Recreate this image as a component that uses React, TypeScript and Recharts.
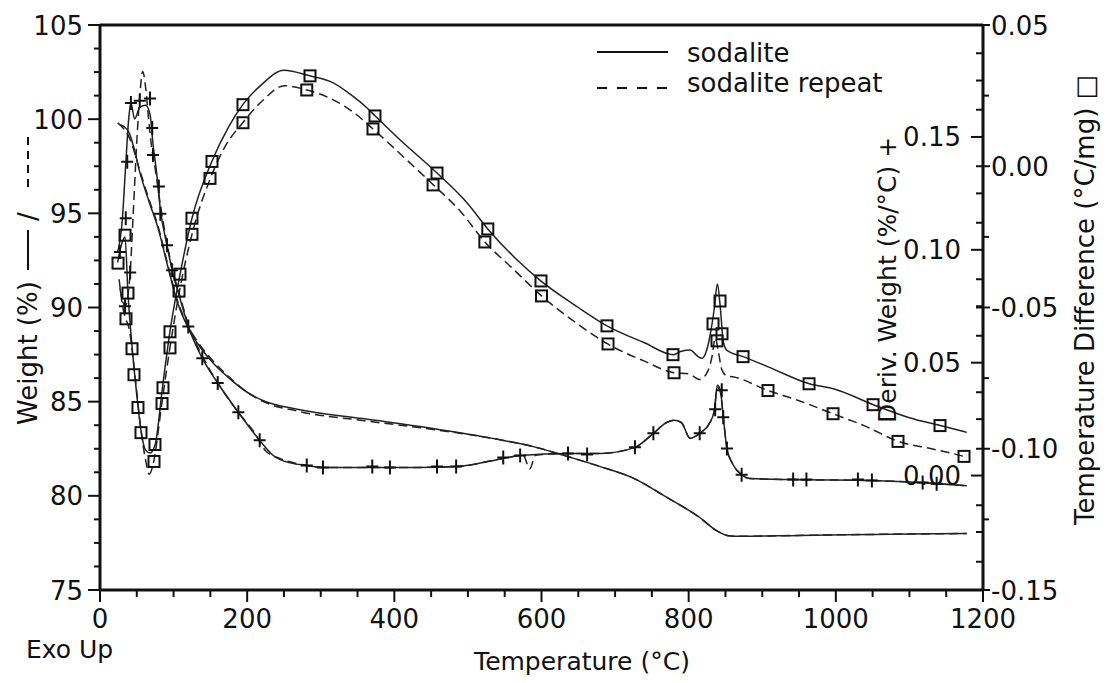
import React from "react";
import { ComposedChart, Line, Scatter, XAxis, YAxis, ReferenceLine } from "recharts";

type Pair = [number, number];

// axis ticks (labels only on the round ones)
const temperatureTicks = [
  0, 50, 100, 150, 200, 250, 300, 350, 400, 450, 500, 550, 600,
  650, 700, 750, 800, 850, 900, 950, 1000, 1050, 1100, 1150, 1200,
];
const weightTicks = [
  75, 76.25, 77.5, 78.75, 80, 81.25, 82.5, 83.75, 85, 86.25, 87.5, 88.75, 90,
  91.25, 92.5, 93.75, 95, 96.25, 97.5, 98.75, 100, 101.25, 102.5, 103.75, 105,
];
const tempDiffTicks = [
  -0.15, -0.14, -0.125, -0.12, -0.1, -0.08, -0.075, -0.06, -0.05, -0.04,
  -0.025, -0.02, 0, 0.02, 0.025, 0.04, 0.05,
];
const derivTicks = [-0.025, 0, 0.025, 0.05, 0.075, 0.1, 0.125, 0.15, 0.175];

// Weight (%) vs temperature
const weightSodalite: Pair[] = [
  [28, 99.7], [38, 99.4], [46, 98.5], [54, 97.2], [66, 95.7], [79, 94.2],
  [92, 92.2], [105, 90.3], [120, 88.9], [136, 87.9], [155, 87.0], [177, 86.2],
  [200, 85.5], [222, 85.05], [268, 84.6], [357, 84.1], [448, 83.6], [540, 83.0],
  [590, 82.6], [630, 82.15], [680, 81.55], [724, 80.95], [771, 79.9], [815, 78.85],
  [838, 78.15], [852, 77.9], [870, 77.85], [950, 77.9], [1050, 77.95], [1178, 78.0],
];
const weightRepeat: Pair[] = [
  [24, 99.8], [32, 99.5], [40, 99.0], [54, 97.3], [66, 95.8], [79, 94.3],
  [92, 92.3], [105, 90.4], [120, 89.0], [136, 88.0], [155, 87.1], [177, 86.25],
  [200, 85.5], [222, 85.0], [268, 84.5], [357, 84.0], [448, 83.55], [540, 83.0],
  [590, 82.6], [630, 82.15], [680, 81.55], [724, 80.95], [771, 79.9], [815, 78.85],
  [838, 78.15], [852, 77.9], [870, 77.85], [950, 77.9], [1050, 77.95], [1178, 78.0],
];

// Deriv. weight (%/°C)
const derivSodalite: Pair[] = [
  [24, 0.099], [30, 0.112], [35, 0.138], [39, 0.158], [42, 0.165], [47, 0.158],
  [54, 0.163], [62, 0.164], [68, 0.16], [72, 0.147], [77, 0.134], [82, 0.118],
  [91, 0.102], [98, 0.091], [110, 0.077], [120, 0.066], [139, 0.052], [160, 0.041],
  [188, 0.028], [217, 0.0156], [235, 0.009], [260, 0.0055], [281, 0.0045], [303, 0.0036],
  [370, 0.0036], [430, 0.0036], [485, 0.004], [548, 0.0076], [571, 0.0089], [636, 0.0098],
  [680, 0.0098], [727, 0.0125], [752, 0.0187], [770, 0.0235], [780, 0.0245], [790, 0.0235],
  [802, 0.0165], [815, 0.0187], [829, 0.0236], [835, 0.029], [839, 0.04], [843, 0.038],
  [847, 0.026], [852, 0.012], [860, 0.005], [872, 0.0004], [883, -0.0013], [942, -0.0018],
  [1050, -0.0022], [1137, -0.0036], [1178, -0.0045],
];
const derivRepeat: Pair[] = [
  [27, 0.083], [31, 0.077], [34, 0.075], [38, 0.08], [41, 0.09], [45, 0.115],
  [50, 0.148], [54, 0.168], [58, 0.179], [62, 0.172], [66, 0.158], [70, 0.146],
  [75, 0.136], [82, 0.12], [91, 0.103], [98, 0.092], [110, 0.078], [120, 0.067],
  [139, 0.053], [160, 0.041], [188, 0.028], [210, 0.019], [225, 0.011], [245, 0.0075],
  [281, 0.0045], [303, 0.0036], [370, 0.0036], [430, 0.0036], [485, 0.004], [548, 0.0076],
  [575, 0.009], [584, 0.003], [592, 0.009], [636, 0.0098], [680, 0.0098], [727, 0.0125],
  [752, 0.0187], [770, 0.0235], [780, 0.0245], [790, 0.0235], [802, 0.0165], [815, 0.0187],
  [829, 0.0236], [835, 0.029], [839, 0.039], [843, 0.037], [847, 0.026], [852, 0.012],
  [860, 0.005], [872, 0.0004], [883, -0.0013], [942, -0.0018], [1050, -0.0022],
  [1137, -0.0036], [1178, -0.0045],
];

// Temperature difference (°C/mg)
const tempDiffSodalite: Pair[] = [
  [24, -0.034], [30, -0.027], [34, -0.025], [38, -0.045], [44, -0.065], [50, -0.081],
  [56, -0.094], [62, -0.1005], [68, -0.1015], [75, -0.0985], [85, -0.078], [95, -0.0586],
  [109, -0.038], [125, -0.0184], [152, 0.0017], [175, 0.014], [194, 0.0218], [220, 0.029],
  [250, 0.034], [285, 0.032], [317, 0.0295], [340, 0.0255], [363, 0.0206], [374, 0.0178],
  [408, 0.0093], [458, -0.0024], [499, -0.013], [527, -0.0222], [567, -0.0332], [599, -0.0406],
  [650, -0.05], [689, -0.0565], [740, -0.0625], [779, -0.0667], [790, -0.0655], [802, -0.065],
  [812, -0.0672], [818, -0.068], [824, -0.0655], [829, -0.06], [835, -0.05], [839, -0.0417],
  [843, -0.05], [847, -0.062], [852, -0.0652], [874, -0.0674], [908, -0.071], [964, -0.077],
  [1000, -0.079], [1051, -0.0844], [1100, -0.089], [1142, -0.0918], [1178, -0.0942],
];
const tempDiffRepeat: Pair[] = [
  [26, -0.04], [31, -0.05], [35, -0.054], [40, -0.058], [44, -0.066], [50, -0.08],
  [56, -0.094], [62, -0.104], [67, -0.109], [73, -0.1045], [84, -0.084], [95, -0.0643],
  [108, -0.0442], [125, -0.0241], [150, -0.0043], [170, 0.007], [194, 0.0154], [220, 0.023],
  [251, 0.0285], [281, 0.027], [317, 0.0235], [345, 0.019], [371, 0.0132], [417, 0.0022],
  [453, -0.0066], [490, -0.016], [523, -0.0268], [560, -0.036], [600, -0.0459], [650, -0.056],
  [690, -0.0629], [740, -0.069], [780, -0.0731], [800, -0.0735], [815, -0.0755], [826, -0.0725],
  [832, -0.067], [836, -0.0608], [840, -0.065], [845, -0.072], [852, -0.0742], [860, -0.0745],
  [908, -0.0794], [950, -0.083], [996, -0.0876], [1040, -0.092], [1085, -0.0974], [1130, -0.1],
  [1174, -0.1027], [1178, -0.103],
];

// symbol positions along the curves
const squareMarks: Pair[] = [
  [24.5, -0.0343], [34, -0.0244], [38, -0.0449], [35.3, -0.054], [43.5, -0.0646],
  [46.2, -0.0738], [51.6, -0.0854], [55.7, -0.0943], [74.7, -0.0985], [73.4, -0.1045],
  [84.3, -0.084], [85.6, -0.0784], [95.1, -0.0643], [95.1, -0.0586], [107.4, -0.0442],
  [108.7, -0.0382], [125, -0.0241], [125, -0.0184], [149.5, -0.0043], [152.2, 0.0017],
  [194.3, 0.0218], [194.3, 0.0154], [285.4, 0.032], [281, 0.027], [373.7, 0.0178],
  [371, 0.0132], [458, -0.0024], [452.6, -0.0066], [527, -0.0222], [523, -0.0268],
  [599.3, -0.0406], [600, -0.0459], [689, -0.0565], [690.4, -0.0629], [778.7, -0.0667],
  [780.1, -0.0731], [842.6, -0.0477], [833.1, -0.0558], [845.3, -0.0593], [838.5, -0.0618],
  [873.9, -0.0674], [907.8, -0.0794], [963.6, -0.077], [996.2, -0.0876], [1050.6, -0.0844],
  [1084.5, -0.0974], [1141.6, -0.0918], [1174.2, -0.1027],
];
const plusMarks: Pair[] = [
  [27, 0.099], [34, 0.075], [41, 0.09], [35, 0.114], [37, 0.139], [42, 0.165],
  [54, 0.166], [68, 0.167], [71, 0.154], [72, 0.142], [80, 0.128], [82, 0.116],
  [91, 0.102], [98, 0.091], [120, 0.066], [139, 0.052], [160, 0.041], [188, 0.028],
  [217, 0.0156], [281, 0.0045], [303, 0.0036], [370, 0.004], [394, 0.0036], [458, 0.004],
  [484, 0.004], [548, 0.008], [571, 0.0089], [636, 0.0098], [662, 0.0093], [727, 0.0125],
  [752, 0.0187], [815, 0.0187], [836, 0.0294], [845, 0.0378], [847, 0.0258], [852, 0.012],
  [872, 0.0004], [942, -0.0018], [960, -0.0018], [1030, -0.0018], [1049, -0.0022],
  [1118, -0.0031], [1137, -0.0036],
];

const toPoints = (pairs: Pair[]) => pairs.map(([t, v]) => ({ t, v }));

const font = "'DejaVu Sans', sans-serif";
const ink = "#111";
const curve = "#222";

const isMultiple = (v: number, step: number) => Math.abs(v / step - Math.round(v / step)) < 1e-6;

function TemperatureTick({ x, y, payload }: any) {
  const major = isMultiple(payload.value, 200);
  return (
    <g>
      <line x1={x} x2={x} y1={y} y2={y + (major ? 12 : 7)} stroke={ink} strokeWidth={2} />
      {major && (
        <text x={x} y={y + 38} textAnchor="middle" fontSize={26} fontFamily={font} fill={ink}>
          {payload.value}
        </text>
      )}
    </g>
  );
}

function WeightTick({ x, y, payload }: any) {
  const major = isMultiple(payload.value, 5);
  return (
    <g>
      <line x1={x - (major ? 12 : 6)} x2={x} y1={y} y2={y} stroke={ink} strokeWidth={2} />
      {major && (
        <text x={x - 17} y={y + 9.5} textAnchor="end" fontSize={26} fontFamily={font} fill={ink}>
          {payload.value}
        </text>
      )}
    </g>
  );
}

function TempDiffTick({ x, y, payload }: any) {
  const v = payload.value;
  const major = isMultiple(v, 0.05);
  const quarter = isMultiple(v, 0.025);
  const x1 = major ? x - 7 : quarter ? x : x - 7;
  const x2 = major ? x + 7 : quarter ? x + 6 : x;
  return (
    <g>
      <line x1={x1} x2={x2} y1={y} y2={y} stroke={ink} strokeWidth={2} />
      {major && (
        <text x={x + 8} y={y + 9.5} textAnchor="start" fontSize={26} fontFamily={font} fill={ink}>
          {v.toFixed(2)}
        </text>
      )}
    </g>
  );
}

function DerivTick({ x, y, payload }: any) {
  const v = payload.value;
  const major = isMultiple(v, 0.05);
  const labelled = major && v >= 0 && v <= 0.15;
  return (
    <g>
      <line x1={x - (major ? 12 : 7)} x2={x} y1={y} y2={y} stroke={ink} strokeWidth={2} />
      {labelled && (
        <text x={x - 22} y={y + 9.5} textAnchor="end" fontSize={26} fontFamily={font} fill={ink}>
          {Math.abs(v).toFixed(2)}
        </text>
      )}
    </g>
  );
}

const SquareMark = ({ cx, cy }: any) => (
  <rect x={cx - 5.5} y={cy - 5.5} width={11} height={11} fill="none" stroke={ink} strokeWidth={2} />
);
const PlusMark = ({ cx, cy }: any) => (
  <path d={`M${cx - 6},${cy}H${cx + 6}M${cx},${cy - 7}V${cy + 7}`} stroke={ink} strokeWidth={2} />
);

export default function App() {
  return (
    <div style={{ position: "relative", width: 1108, height: 683, background: "#fff" }}>
      <style>{"body{margin:0}"}</style>
      <ComposedChart width={1108} height={683} margin={{ top: 25, right: 0, bottom: 0, left: 0 }}>
        <XAxis
          xAxisId="x"
          dataKey="t"
          type="number"
          domain={[0, 1200]}
          allowDataOverflow
          ticks={temperatureTicks}
          interval={0}
          height={93}
          tickSize={0}
          tickMargin={0}
          tickLine={false}
          axisLine={{ stroke: ink, strokeWidth: 3 }}
          tick={TemperatureTick}
        />
        <YAxis
          yAxisId="w"
          type="number"
          domain={[75, 105]}
          allowDataOverflow
          ticks={weightTicks}
          interval={0}
          width={100}
          tickSize={0}
          tickMargin={0}
          tickLine={false}
          axisLine={{ stroke: ink, strokeWidth: 3 }}
          tick={WeightTick}
        />
        <YAxis
          yAxisId="dta"
          orientation="right"
          type="number"
          domain={[-0.15, 0.05]}
          allowDataOverflow
          ticks={tempDiffTicks}
          interval={0}
          width={125}
          tickSize={0}
          tickMargin={0}
          tickLine={false}
          axisLine={{ stroke: ink, strokeWidth: 3 }}
          tick={TempDiffTick}
        />
        <YAxis
          yAxisId="d"
          orientation="right"
          mirror
          type="number"
          domain={[-0.0507, 0.1996]}
          allowDataOverflow
          ticks={derivTicks}
          interval={0}
          width={60}
          tickSize={0}
          tickMargin={0}
          tickLine={false}
          axisLine={false}
          tick={DerivTick}
        />
        <ReferenceLine xAxisId="x" yAxisId="w" y={105} stroke={ink} strokeWidth={3} />

        <Line xAxisId="x" yAxisId="w" data={toPoints(weightSodalite)} dataKey="v" type="monotone"
          stroke={curve} strokeWidth={1.5} dot={false} isAnimationActive={false} />
        <Line xAxisId="x" yAxisId="w" data={toPoints(weightRepeat)} dataKey="v" type="monotone"
          stroke={curve} strokeWidth={1.5} strokeDasharray="9 5" dot={false} isAnimationActive={false} />
        <Line xAxisId="x" yAxisId="d" data={toPoints(derivSodalite)} dataKey="v" type="monotone"
          stroke={curve} strokeWidth={1.5} dot={false} isAnimationActive={false} />
        <Line xAxisId="x" yAxisId="d" data={toPoints(derivRepeat)} dataKey="v" type="monotone"
          stroke={curve} strokeWidth={1.5} strokeDasharray="9 5" dot={false} isAnimationActive={false} />
        <Line xAxisId="x" yAxisId="dta" data={toPoints(tempDiffSodalite)} dataKey="v" type="monotone"
          stroke={curve} strokeWidth={1.5} dot={false} isAnimationActive={false} />
        <Line xAxisId="x" yAxisId="dta" data={toPoints(tempDiffRepeat)} dataKey="v" type="monotone"
          stroke={curve} strokeWidth={1.5} strokeDasharray="9 5" dot={false} isAnimationActive={false} />

        <Scatter xAxisId="x" yAxisId="dta" data={toPoints(squareMarks)} dataKey="v"
          shape={SquareMark} isAnimationActive={false} />
        <Scatter xAxisId="x" yAxisId="d" data={toPoints(plusMarks)} dataKey="v"
          shape={PlusMark} isAnimationActive={false} />
      </ComposedChart>

      <svg width={1108} height={683} style={{ position: "absolute", left: 0, top: 0, pointerEvents: "none" }}
        fontFamily={font} fill={ink}>
        {/* legend */}
        <line x1={597} x2={668} y1={52} y2={52} stroke={ink} strokeWidth={2} />
        <text x={687} y={62} fontSize={26}>sodalite</text>
        <line x1={597} x2={668} y1={88} y2={88} stroke={ink} strokeWidth={2} strokeDasharray="10 10" />
        <text x={687} y={92} fontSize={26}>sodalite repeat</text>

        {/* axis titles */}
        <g transform="translate(37,425) rotate(-90)">
          <text x={0} y={0} fontSize={26}>Weight (%)</text>
          <line x1={155} x2={195} y1={-9} y2={-9} stroke={ink} strokeWidth={2} />
          <text x={204} y={0} fontSize={26}>/</text>
          <line x1={238} x2={292} y1={-9} y2={-9} stroke={ink} strokeWidth={2} strokeDasharray="8 6" />
        </g>
        <text x={582} y={670} fontSize={25} textAnchor="middle">Temperature (°C)</text>
        <text x={26} y={658} fontSize={25}>Exo Up</text>
        <text transform="translate(896,423) rotate(-90)" fontSize={25}>Deriv. Weight (%/°C) +</text>
        <text transform="translate(1094,525) rotate(-90)" fontSize={26}>Temperature Difference (°C/mg) □</text>
      </svg>
    </div>
  );
}
